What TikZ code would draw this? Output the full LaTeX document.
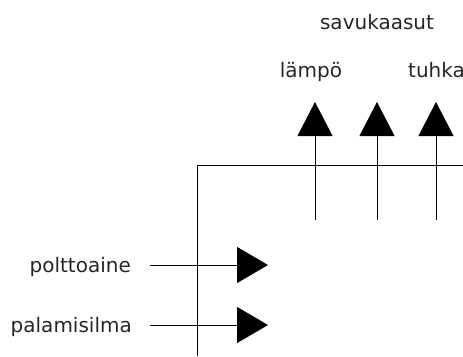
\documentclass[tikz,border=0pt]{standalone}
\usepackage{fontspec}
\setmainfont{DejaVu Sans}
\usetikzlibrary{arrows.meta}
\begin{document}
\begin{tikzpicture}[x=1pt,y=-1pt,
  lbl/.style={inner sep=0pt,font=\fontsize{20}{22}\selectfont,text=black!85},
  flow/.style={line width=1pt,-{Triangle[length=34pt,width=35pt]}},
  wall/.style={line width=1pt}]
  \useasboundingbox (0,0) rectangle (463,356);
  \clip (0,0) rectangle (463,356);
  % furnace outline (corner)
  \draw[wall] (197,356) -- (197,165) -- (463,165);
  % outputs
  \coordinate (o1s) at (315,220); \coordinate (o1e) at (315,102);
  \coordinate (o2s) at (377,220); \coordinate (o2e) at (377,102);
  \coordinate (o3s) at (436,220); \coordinate (o3e) at (436,102);
  \draw[flow] (o1s) -- (o1e);
  \draw[flow] (o2s) -- (o2e);
  \draw[flow] (o3s) -- (o3e);
  % inputs
  \coordinate (i1s) at (150,265); \coordinate (i1e) at (268,265);
  \coordinate (i2s) at (150,325); \coordinate (i2e) at (268,325);
  \draw[flow,-{Triangle[length=31pt,width=36pt]}] (i1s) -- (i1e);
  \draw[flow,-{Triangle[length=31pt,width=36pt]}] (i2s) -- (i2e);
  % labels
  \node[lbl,anchor=base] (savu) at (377,29) {savukaasut};
  \node[lbl,anchor=base] (lampo) at (311,77) {lämpö};
  \node[lbl,anchor=base west] (tuhka) at (408,77) {tuhka};
  \node[lbl,anchor=base east] (polt) at (131,272) {polttoaine};
  \node[lbl,anchor=base east] (pala) at (132,332) {palamisilma};
\end{tikzpicture}
\end{document}
